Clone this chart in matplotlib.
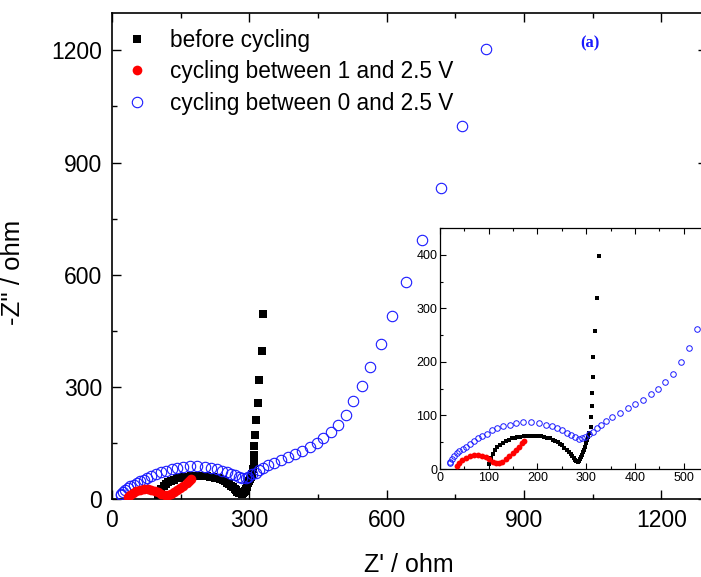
import numpy as np
import matplotlib.pyplot as plt
from matplotlib.ticker import MultipleLocator

plt.rcParams['font.family'] = ['Liberation Sans', 'DejaVu Sans']

# impedance data: Z' (ohm), -Z'' (ohm)
before_zr = [100, 104, 108, 113, 118, 123, 129, 135, 141, 147, 153, 158, 165, 173,
             180, 187, 194, 201, 208, 214, 220, 225, 231, 236, 242, 247, 251, 255,
             260, 264, 268, 271, 274, 277, 280, 283, 286, 288, 290, 292, 294, 296,
             298, 299, 301, 303, 306, 309, 310, 311, 311, 313, 315, 318, 322, 327, 331]
before_zi = [10, 20, 28, 36, 41, 45, 49, 52, 55, 57, 58, 59, 60, 61,
             62, 62, 62, 62, 61, 59, 58, 57, 55, 53, 50, 47, 44, 40,
             36, 32, 28, 24, 20, 17, 15, 14, 15, 18, 22, 27, 31, 36,
             42, 48, 54, 60, 68, 79, 97, 117, 141, 171, 210, 258, 319, 397, 495]

c1_zr = [34, 40, 46, 53, 61, 70, 78, 86, 94, 101, 108, 115, 122, 128, 135,
         142, 149, 156, 163, 168, 172]
c1_zi = [6, 12, 17, 21, 24, 26, 26, 24, 22, 19, 14, 11, 11, 14, 19,
         24, 29, 36, 42, 48, 53]

c0_zr = [20, 20, 24, 29, 34, 40, 47, 54, 61, 69, 77, 86, 96, 107, 117, 130,
         143, 156, 171, 186, 204, 217, 230, 241, 251, 261, 268, 277, 285, 292,
         298, 306, 314, 322, 330, 341, 354, 369, 385, 400, 416, 432, 447, 462,
         478, 494, 511, 527, 546, 564, 588, 612, 643, 678, 719, 765, 817]
c0_zi = [12, 14, 19, 24, 29, 34, 38, 42, 47, 52, 57, 61, 66, 72, 76, 80,
         83, 86, 87, 87, 85, 83, 80, 76, 72, 68, 64, 59, 56, 57,
         60, 66, 70, 77, 83, 90, 97, 105, 113, 121, 129, 140, 150, 162,
         178, 199, 226, 262, 303, 353, 415, 490, 581, 694, 833, 999, 1203]

blue = '#1a1aff'

fig = plt.figure(figsize=(7.01, 5.77), dpi=100)
ax = fig.add_axes([112/701, 78/577, 595/701, 486/577])

ax.plot(before_zr, before_zi, 's', color='black', ms=5.5, mew=0, label='before cycling', zorder=3)
ax.plot(c0_zr, c0_zi, 'o', mfc='none', mec=blue, ms=7.5, mew=0.8,
        label='cycling between 0 and 2.5 V', zorder=4)
ax.plot(c1_zr, c1_zi, 'o', color='red', ms=7, mew=0, label='cycling between 1 and 2.5 V', zorder=5)

ax.set_xlim(0, 1300)
ax.set_ylim(0, 1300)
ax.xaxis.set_major_locator(MultipleLocator(300))
ax.xaxis.set_minor_locator(MultipleLocator(150))
ax.yaxis.set_major_locator(MultipleLocator(300))
ax.yaxis.set_minor_locator(MultipleLocator(150))
ax.tick_params(which='both', direction='in', top=True, right=True, labelsize=16.5, pad=7)
ax.tick_params(which='major', length=6.5, width=1)
ax.tick_params(which='minor', length=3.5, width=1)
for s in ax.spines.values():
    s.set_linewidth(1.2)

ax.set_xlabel("Z' / ohm", fontsize=18)
ax.set_ylabel("-Z'' / ohm", fontsize=18.5)
ax.xaxis.set_label_coords(0.499, -0.111)
ax.yaxis.set_label_coords(-0.146, 0.467)

h, l = ax.get_legend_handles_labels()
ax.legend([h[0], h[2], h[1]], [l[0], l[2], l[1]], loc='upper left', frameon=False,
          fontsize=16.3, handlelength=1.0, handletextpad=0.96, labelspacing=0.37,
          borderpad=0, borderaxespad=0,
          bbox_to_anchor=(126/701, 1 - 29/577), bbox_transform=fig.transFigure)

ax.text(590/701, 1 - 43/577, '(a)', transform=fig.transFigure, color=blue,
        fontsize=12, fontweight='bold', family='Liberation Serif', ha='center', va='center')

# inset
ins = fig.add_axes([440/701, 108/577, 268/701, 241/577])
ins.plot(before_zr, before_zi, 's', color='black', ms=3.2, mew=0, zorder=3)
ins.plot(c0_zr, c0_zi, 'o', mfc='none', mec=blue, ms=4, mew=0.7, zorder=4)
ins.plot(c1_zr, c1_zi, 'o', color='red', ms=4.2, mew=0, zorder=5)
ins.set_xlim(0, 550)
ins.set_ylim(0, 450)
ins.xaxis.set_major_locator(MultipleLocator(100))
ins.xaxis.set_minor_locator(MultipleLocator(50))
ins.yaxis.set_major_locator(MultipleLocator(100))
ins.yaxis.set_minor_locator(MultipleLocator(50))
ins.tick_params(which='both', direction='in', top=True, right=True, labelsize=9, pad=2)
ins.tick_params(which='major', length=4, width=0.8)
ins.tick_params(which='minor', length=2.5, width=0.8)
for s in ins.spines.values():
    s.set_linewidth(0.9)

fig.savefig('out.png', dpi=100)
